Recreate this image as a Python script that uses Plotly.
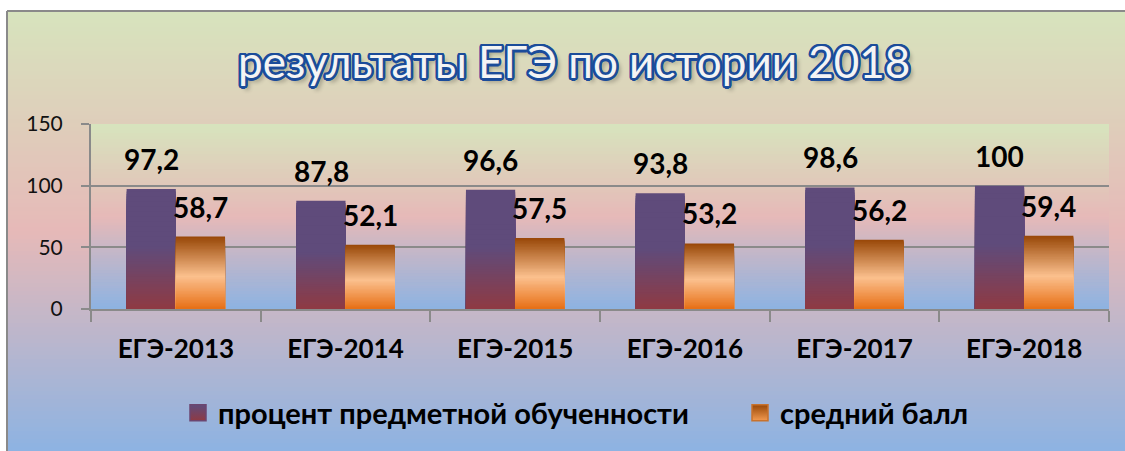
import plotly.graph_objects as go

# ---- data ----
categories = ["ЕГЭ-2013", "ЕГЭ-2014", "ЕГЭ-2015", "ЕГЭ-2016", "ЕГЭ-2017", "ЕГЭ-2018"]
percent_values = [97.2, 87.8, 96.6, 93.8, 98.6, 100]
score_values = [58.7, 52.1, 57.5, 53.2, 56.2, 59.4]
series_names = ["процент предметной обученности", "средний балл"]
y_ticks = [0, 50, 100, 150]
title_text = "результаты ЕГЭ по истории 2018"

# ---- geometry (pixels) ----
W, H = 1125, 451
ML, MR, MT, MB = 91, 16, 124, 142
PW, PH = W - ML - MR, H - MT - MB


def px_x(px):
    return (px - ML) / PW


def px_y(py):
    return (H - MB - py) / PH


def hex_rgb(h):
    h = h.lstrip("#")
    return tuple(int(h[i:i + 2], 16) for i in (0, 2, 4))


def grad(stops, t):
    """Linear interpolation through (position, hex colour) stops."""
    t = max(0.0, min(1.0, t))
    for (p0, c0), (p1, c1) in zip(stops, stops[1:]):
        if p0 <= t <= p1:
            f = 0 if p1 == p0 else (t - p0) / (p1 - p0)
            a, b = hex_rgb(c0), hex_rgb(c1)
            return "rgb(%d,%d,%d)" % tuple(round(a[i] + (b[i] - a[i]) * f) for i in range(3))
    return stops[-1][1]


# gradients measured from the bottom of each bar (0) to its top (1)
purple_stops = [(0.0, "#8f3a43"), (0.52, "#5f4b7b"), (1.0, "#5f4b7b")]
orange_stops = [(0.0, "#e76f15"), (0.45, "#fbc08e"), (1.0, "#984707")]
# backgrounds measured from top (0) to bottom (1)
bg_stops = [(0.0, "#d7e4bd"), (0.5, "#e6b9b8"), (1.0, "#8db3e2")]

fig = go.Figure()

# bars: each bar is painted as a pile of overlapping shorter bars so that the
# fill runs through the gradient from its top down to the axis
N = 48
for values, stops, group in ((percent_values, purple_stops, "p"),
                             (score_values, orange_stops, "s")):
    for k in range(N):
        frac = (N - k) / N
        fig.add_trace(go.Bar(
            x=categories,
            y=[v * frac for v in values],
            offsetgroup=group,
            marker=dict(color=grad(stops, frac - 0.5 / N), line=dict(width=0)),
            showlegend=False,
            hoverinfo="skip",
        ))

# legend entries
fig.add_trace(go.Scatter(
    x=[None], y=[None], mode="markers", name=series_names[0], legend="legend",
    marker=dict(symbol="square", size=16, color="#5f4b7b",
                gradient=dict(type="vertical", color="#8f3a43"),
                line=dict(width=1.5, color="#6c4670")),
))
fig.add_trace(go.Scatter(
    x=[None], y=[None], mode="markers", name=series_names[1], legend="legend2",
    marker=dict(symbol="square", size=16, color="#984707",
                gradient=dict(type="vertical", color="#f39a50"),
                line=dict(width=1.5, color="#c8722c")),
))

shapes = []
# chart background gradient
top_px, bot_px = 11, H
steps = 110
for i in range(steps):
    y0 = top_px + (bot_px - top_px) * i / steps
    y1 = top_px + (bot_px - top_px) * (i + 1) / steps + 0.8
    shapes.append(dict(type="rect", xref="paper", yref="paper",
                       x0=px_x(7), x1=px_x(W), y0=px_y(min(y1, bot_px)), y1=px_y(y0),
                       fillcolor=grad(bg_stops, (i + 0.5) / steps),
                       line=dict(width=0), layer="below"))
# plot area gradient
steps = 62
for i in range(steps):
    shapes.append(dict(type="rect", xref="x domain", yref="y domain",
                       x0=0, x1=1, y0=max(0, 1 - (i + 1) / steps - 0.004), y1=1 - i / steps,
                       fillcolor=grad(bg_stops, (i + 0.5) / steps),
                       line=dict(width=0), layer="below"))
# frame edges
shapes.append(dict(type="line", xref="paper", yref="paper",
                   x0=px_x(7), x1=px_x(7), y0=px_y(11), y1=px_y(H),
                   line=dict(color="#8a8a8a", width=2), layer="below"))
shapes.append(dict(type="line", xref="paper", yref="paper",
                   x0=px_x(7), x1=px_x(W), y0=px_y(11), y1=px_y(11),
                   line=dict(color="#8a8a8a", width=2), layer="below"))

annotations = []


def fmt(v):
    return ("%g" % v).replace(".", ",")


for values, shift in ((percent_values, -24.5), (score_values, 24.5)):
    for c, v in zip(categories, values):
        annotations.append(dict(x=c, y=v, xref="x", yref="y", text=fmt(v),
                                showarrow=False, xshift=shift, yshift=30,
                                font=dict(family="Lato", size=28, color="#000000", weight="bold")))

# title: light lettering with a dark blue outline and a soft drop shadow
outline = "#1b4c9a"
offsets = [(2.5, 0), (-2.5, 0), (0, 2.5), (0, -2.5),
           (1.8, 1.8), (-1.8, 1.8), (1.8, -1.8), (-1.8, -1.8),
           (2.3, 1), (-2.3, 1), (2.3, -1), (-2.3, -1),
           (1, 2.3), (-1, 2.3), (1, -2.3), (-1, -2.3)]
shadow = ", ".join([f"{dx}px {dy}px 0 {outline}" for dx, dy in offsets]
                   + ["4px 4px 4px rgba(0,0,0,0.3)"])
annotations.append(dict(x=px_x(574), y=px_y(61), xref="paper", yref="paper",
                        text=title_text, showarrow=False, xanchor="center", yanchor="middle",
                        font=dict(family="Lato", size=44, color="#f4f4f4", shadow=shadow)))

grid = "#8a8a8a"
legend_font = dict(family="Lato", size=29, color="#000000", weight="bold")
fig.update_layout(
    width=W, height=H,
    margin=dict(l=ML, r=MR, t=MT, b=MB, pad=0),
    paper_bgcolor="white",
    plot_bgcolor="rgba(0,0,0,0)",
    barmode="group",
    bargap=0.42,
    bargroupgap=0,
    shapes=shapes,
    annotations=annotations,
    showlegend=True,
    legend=dict(orientation="h", x=px_x(178), y=px_y(413), xanchor="left", yanchor="middle",
                bgcolor="rgba(0,0,0,0)", font=legend_font),
    legend2=dict(orientation="h", x=px_x(740), y=px_y(413), xanchor="left", yanchor="middle",
                 bgcolor="rgba(0,0,0,0)", font=legend_font),
    xaxis=dict(type="category", showline=True, linecolor=grid, linewidth=2,
               ticks="outside", tickson="boundaries", ticklen=11, tickwidth=2, tickcolor=grid,
               showgrid=False, ticklabelstandoff=16,
               tickfont=dict(family="Lato", size=26, color="#000000", weight="bold")),
    yaxis=dict(range=[0, 150], tickvals=y_ticks, showline=True, linecolor=grid, linewidth=2,
               ticks="outside", ticklen=8, tickwidth=2, tickcolor=grid,
               showgrid=True, gridcolor=grid, gridwidth=2, zeroline=False,
               ticklabelstandoff=14,
               tickfont=dict(family="Lato", size=21, color="#111111")),
)

fig.write_html("out.html")
